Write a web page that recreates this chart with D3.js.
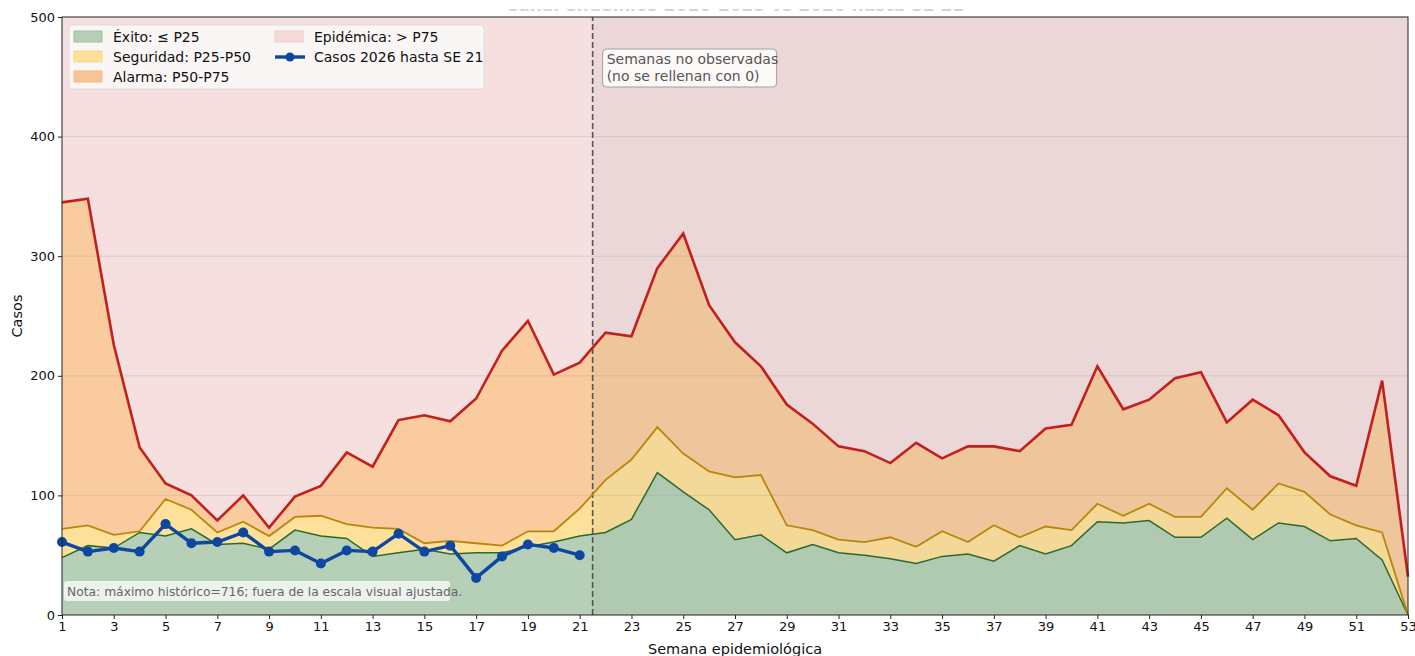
<!DOCTYPE html>
<html lang="es">
<head>
<meta charset="UTF-8">
<title>Canal endémico</title>
<script src="https://d3js.org/d3.v7.min.js"></script>
<style>
  body { margin: 0; background: #fff; }
  svg { display: block; font-family: "DejaVu Sans", sans-serif; }
</style>
</head>
<body>
<script>
// semanas epidemiológicas 1..53
const weeks = d3.range(1, 54);

// percentiles históricos (lectura aproximada)
const p25 = [48,58,56,69,66,72,59,60,55,71,66,64,49,52,55,51,52,52,57,61,66,69,80,119,103,88,63,67,52,59,
             52,50,47,43,49,51,45,58,51,58,78,77,79,65,65,81,63,77,74,62,64,46,0];
const p50 = [72,75,67,70,97,88,69,78,66,82,83,76,73,72,60,62,60,58,70,70,89,113,130,157,135,120,115,117,75,71,
             63,61,65,57,70,61,75,65,74,71,93,83,93,82,82,106,88,110,103,84,75,69,0];
const p75 = [345,348,226,140,110,100,79,100,73,99,108,136,124,163,167,162,181,221,246,201,211,236,233,290,319,259,228,208,176,160,
             141,137,127,144,131,141,141,137,156,159,208,172,180,198,203,161,180,167,136,116,108,196,32];

// casos observados 2026 hasta SE 21
const cases2026 = [61,53,56,53,76,60,61,69,53,54,43,54,53,68,53,58,31,49,59,56,50];

const xTicks = d3.range(1, 54, 2);
const yTicks = [0,100,200,300,400,500];
const lastWeek = 21;

const W = 1415, H = 656;
const margin = {top: 17, right: 7, bottom: 41, left: 62};

const svg = d3.select("body").append("svg")
    .attr("width", W).attr("height", H);

const x = d3.scaleLinear().domain([1, 53]).range([margin.left, W - margin.right]);
const y = d3.scaleLinear().domain([0, 500]).range([H - margin.bottom, margin.top]);

const rows = weeks.map((w, i) => ({w, p25: p25[i], p50: p50[i], p75: p75[i]}));

// titulo (cortado arriba, solo asoma el pie de las letras)
svg.append("defs").append("clipPath").attr("id", "titleclip")
  .append("rect").attr("x", 0).attr("y", 9).attr("width", W).attr("height", 2);
svg.append("text")
    .attr("clip-path", "url(#titleclip)")
    .attr("x", (x(1) + x(53)) / 2).attr("y", 11)
    .attr("text-anchor", "middle")
    .attr("font-size", 17).attr("font-weight", "bold")
    .attr("fill", "#d4d4d4")
    .text("Canal endémico 2016-2025 vs 2026 hasta SE 21");

const plot = svg.append("g");

const band = (lo, hi) => d3.area()
    .x(d => x(d.w))
    .y0(d => y(lo(d)))
    .y1(d => y(hi(d)));

// bandas
plot.append("path").datum(rows).attr("fill", "#f5dfdf")
    .attr("d", band(d => d.p75, d => 500));
plot.append("path").datum(rows).attr("fill", "#f9cb9e")
    .attr("d", band(d => d.p50, d => d.p75));
plot.append("path").datum(rows).attr("fill", "#fde09a")
    .attr("d", band(d => d.p25, d => d.p50));
plot.append("path").datum(rows).attr("fill", "#b5d0b6")
    .attr("d", band(d => 0, d => d.p25));

// grilla
plot.selectAll(".grid").data(yTicks.slice(1, -1)).enter().append("line")
    .attr("x1", x(1)).attr("x2", x(53))
    .attr("y1", d => y(d)).attr("y2", d => y(d))
    .attr("stroke", "#b0a0a0").attr("stroke-opacity", 0.3).attr("stroke-width", 1);

// semanas no observadas
plot.append("rect")
    .attr("x", x(lastWeek + 0.5)).attr("y", y(500))
    .attr("width", x(53) - x(lastWeek + 0.5)).attr("height", y(0) - y(500))
    .attr("fill", "#808080").attr("fill-opacity", 0.08);

plot.append("line")
    .attr("x1", x(lastWeek + 0.5)).attr("x2", x(lastWeek + 0.5))
    .attr("y1", y(0)).attr("y2", y(500))
    .attr("stroke", "#555").attr("stroke-width", 1.6)
    .attr("stroke-dasharray", "6,3");

const line = key => d3.line().x(d => x(d.w)).y(d => y(d[key]));

plot.append("path").datum(rows).attr("fill", "none")
    .attr("stroke", "#2b6a2b").attr("stroke-width", 1.5).attr("d", line("p25"));
plot.append("path").datum(rows).attr("fill", "none")
    .attr("stroke", "#b8860b").attr("stroke-width", 1.8).attr("d", line("p50"));
plot.append("path").datum(rows).attr("fill", "none")
    .attr("stroke", "#c21f1f").attr("stroke-width", 2.6).attr("d", line("p75"));

// casos 2026
const obs = cases2026.map((v, i) => ({w: i + 1, v}));
plot.append("path").datum(obs).attr("fill", "none")
    .attr("stroke", "#0d47a1").attr("stroke-width", 3.4)
    .attr("stroke-linejoin", "round")
    .attr("d", d3.line().x(d => x(d.w)).y(d => y(d.v)));
plot.selectAll(".pt").data(obs).enter().append("circle")
    .attr("cx", d => x(d.w)).attr("cy", d => y(d.v)).attr("r", 5)
    .attr("fill", "#0d47a1");

// ejes
const xAxis = d3.axisBottom(x).tickValues(xTicks).tickFormat(d3.format("d")).tickSize(4).tickPadding(3);
const yAxis = d3.axisLeft(y).tickValues(yTicks).tickSize(4).tickPadding(3);

const gx = svg.append("g").attr("transform", `translate(0,${y(0)})`).call(xAxis);
const gy = svg.append("g").attr("transform", `translate(${x(1)},0)`).call(yAxis);
[gx, gy].forEach(g => {
  g.select(".domain").remove();
  g.selectAll("text").attr("font-size", 13).attr("fill", "#111").attr("font-family", "DejaVu Sans, sans-serif");
  g.selectAll("line").attr("stroke", "#222");
});

svg.append("rect")
    .attr("x", x(1)).attr("y", y(500))
    .attr("width", x(53) - x(1)).attr("height", y(0) - y(500))
    .attr("fill", "none").attr("stroke", "#222").attr("stroke-width", 1);

svg.append("text")
    .attr("x", (x(1) + x(53)) / 2).attr("y", 654)
    .attr("text-anchor", "middle").attr("font-size", 14.5).attr("fill", "#111")
    .text("Semana epidemiológica");
svg.append("text")
    .attr("transform", `translate(22,${(y(0) + y(500)) / 2}) rotate(-90)`)
    .attr("text-anchor", "middle").attr("font-size", 14.5).attr("fill", "#111")
    .text("Casos");

// anotaciones
const ann = svg.append("g").attr("transform", `translate(${x(lastWeek + 0.5) + 10},49)`);
ann.append("rect").attr("width", 174).attr("height", 38).attr("rx", 4)
    .attr("fill", "#fdf8f8").attr("stroke", "#a0a0a0").attr("stroke-width", 1);
ann.append("text").attr("x", 4).attr("y", 15).attr("font-size", 14).attr("fill", "#555")
    .text("Semanas no observadas");
ann.append("text").attr("x", 4).attr("y", 32).attr("font-size", 14).attr("fill", "#555")
    .text("(no se rellenan con 0)");

const note = svg.append("g").attr("transform", `translate(${x(1) + 2},581)`);
note.append("rect").attr("width", 386).attr("height", 20).attr("rx", 3)
    .attr("fill", "#ffffff").attr("fill-opacity", 0.75);
note.append("text").attr("x", 3).attr("y", 14.5).attr("font-size", 12.3).attr("fill", "#666")
    .text("Nota: máximo histórico=716; fuera de la escala visual ajustada.");

// leyenda
const legendItems = [
  {label: "Éxito: ≤ P25", type: "patch", fill: "#b5d0b6", stroke: "#9cc09d", col: 0, row: 0},
  {label: "Seguridad: P25-P50", type: "patch", fill: "#fde09a", stroke: "#f8d38a", col: 0, row: 1},
  {label: "Alarma: P50-P75", type: "patch", fill: "#f9c596", stroke: "#f4b684", col: 0, row: 2},
  {label: "Epidémica: > P75", type: "patch", fill: "#f5dada", stroke: "#f0caca", col: 1, row: 0},
  {label: "Casos 2026 hasta SE 21", type: "line", col: 1, row: 1}
];
const lg = svg.append("g").attr("transform", "translate(69,25)");
lg.append("rect").attr("width", 415).attr("height", 64).attr("rx", 3)
    .attr("fill", "#fbf6f6").attr("stroke", "#dcdcdc");
const li = lg.selectAll(".li").data(legendItems).enter().append("g")
    .attr("transform", d => `translate(${5 + d.col * 201},${12 + d.row * 20})`);
li.filter(d => d.type === "patch").append("rect")
    .attr("x", 0).attr("y", -6).attr("width", 28).attr("height", 11)
    .attr("fill", d => d.fill).attr("stroke", d => d.stroke);
li.filter(d => d.type === "line").append("line")
    .attr("x1", 0).attr("x2", 30).attr("y1", 0).attr("y2", 0)
    .attr("stroke", "#0d47a1").attr("stroke-width", 3.4);
li.filter(d => d.type === "line").append("circle")
    .attr("cx", 15).attr("cy", 0).attr("r", 4.5).attr("fill", "#0d47a1");
li.append("text").attr("x", 39).attr("y", 5).attr("font-size", 14).attr("fill", "#111")
    .text(d => d.label);
</script>
</body>
</html>
